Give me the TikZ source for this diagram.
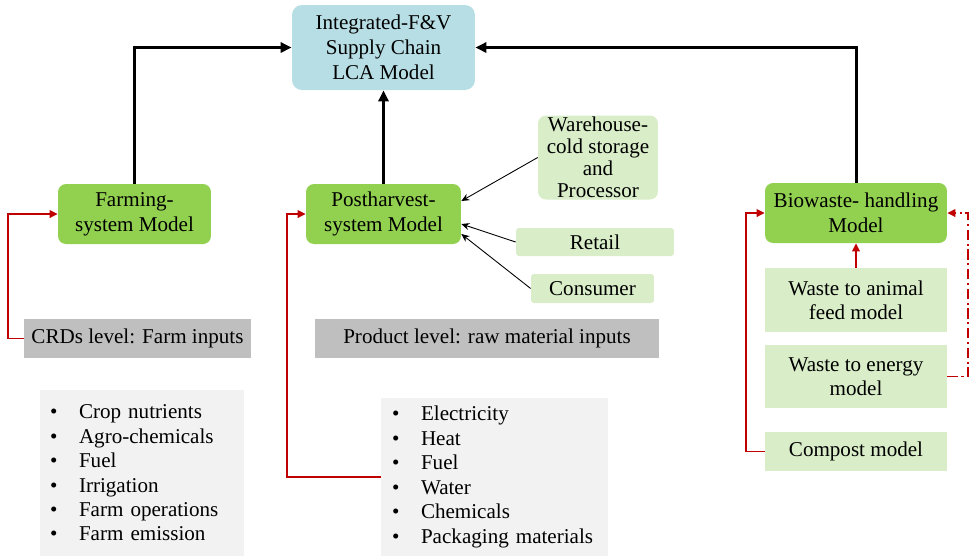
\documentclass[tikz,border=0pt]{standalone}
\usepackage{fontspec}
\setmainfont{Liberation Serif}
\usetikzlibrary{arrows.meta}
\definecolor{lcablue}{RGB}{183,222,228}
\definecolor{modelgreen}{RGB}{146,208,80}
\definecolor{palegreen}{RGB}{216,237,200}
\definecolor{tiergray}{RGB}{191,191,191}
\definecolor{listgray}{RGB}{242,242,242}
\definecolor{linkred}{RGB}{192,0,0}
\tikzset{every node/.style={inner sep=0pt,align=center,font=\fontsize{12}{14.2}\selectfont}}
\tikzset{model/.style={fill=modelgreen,rounded corners=0.16cm,minimum height=1.2cm}}
\tikzset{stage/.style={fill=palegreen,rounded corners=0.06cm}}
\tikzset{submodel/.style={fill=palegreen,minimum width=3.64cm}}
\tikzset{tier/.style={fill=tiergray,minimum height=0.78cm}}
\tikzset{inputs/.style={fill=listgray,align=left,font=\fontsize{12}{13.9}\selectfont}}
\tikzset{up/.style={line width=1.7pt,-{Triangle[length=2.2mm,width=2mm]}}}
\tikzset{feeder/.style={line width=0.5pt,-{Stealth[length=1.6mm,width=1.4mm]}}}
\tikzset{redlink/.style={linkred,line width=1.1pt,-{Triangle[length=1.6mm,width=1.5mm]}}}
\newcommand{\itm}[1]{\makebox[0.58cm][l]{\textbullet}#1}

\begin{document}
\begin{tikzpicture}[x=0.02cm,y=-0.02cm]
      \useasboundingbox (0,0) rectangle (974,556);
      \node[fill=lcablue,rounded corners=0.2cm,minimum width=3.66cm,minimum height=1.7cm] (lca) at (383.5,47.5) {Integrated-F\&V\\Supply Chain\\LCA Model};
      \node[model,minimum width=3.06cm] (farm) at (134.5,214) {Farming-\\system Model};
      \node[model,minimum width=3.1cm] (post) at (383.5,214) {Postharvest-\\system Model};
      \node[model,minimum width=3.64cm] (bio) at (856,213) {Biowaste- handling\\Model};
      \node[stage,rounded corners=0.16cm,minimum width=2.4cm,minimum height=1.68cm,font=\fontsize{12}{12.5}\selectfont] (ware) at (598,157.5) {Warehouse-\\cold storage\\and\\Processor};
      \node[stage,minimum width=3.16cm,minimum height=0.56cm] (retail) at (595,242) {Retail};
      \node[stage,minimum width=2.46cm,minimum height=0.58cm] (consumer) at (592.5,288.5) {Consumer};
      \node[tier,minimum width=4.54cm] (crd) at (137.5,338.5) {CRDs level: Farm inputs};
      \node[tier,minimum width=6.88cm] (prod) at (487,338.5) {Product level: raw material inputs};
      \node[inputs,text width=3.68cm,inner xsep=0.2cm,minimum height=3.32cm] (farmlist) at (142,473)
        {\itm{Crop nutrients}\\\itm{Agro-chemicals}\\\itm{Fuel}\\\itm{Irrigation}\\\itm{Farm operations}\\\itm{Farm emission}};
      \node[inputs,text width=4.1cm,inner xsep=0.22cm,minimum height=3.16cm] (postlist) at (494.5,477)
        {\itm{Electricity}\\\itm{Heat}\\\itm{Fuel}\\\itm{Water}\\\itm{Chemicals}\\\itm{Packaging materials}};
      \node[submodel,minimum height=1.28cm,font=\fontsize{12}{13.6}\selectfont] (feedm) at (856,300) {Waste to animal\\feed model};
      \node[submodel,minimum height=1.26cm,font=\fontsize{12}{13.6}\selectfont] (energy) at (856,376.5) {Waste to energy\\model};
      \node[submodel,minimum height=0.78cm] (compost) at (856,451.5) {Compost model};
      % to the LCA model
      \draw[up] (farm.north) |- (lca.west);
      \draw[up] (post.north) -- (lca.south);
      \draw[up] (bio.north) |- (lca.east);
      % supply chain stages
      \draw[feeder] (ware.west) -- ([yshift=0.26cm]post.east);
      \draw[feeder] (retail.west) -- ([yshift=-0.2cm]post.east);
      \draw[feeder] (consumer.west) -- ([yshift=-0.4cm]post.east);
      % inputs
      \draw[redlink] (crd.west) -- ++(-16,0) |- (farm.west);
      \draw[redlink] (postlist.west) -- ++(-94,0) |- (post.west);
      \draw[redlink] (feedm.north) -- (bio.south);
      \draw[redlink] (compost.west) -- ++(-19,0) |- (bio.west);
      \draw[redlink,dash pattern=on 6pt off 2pt on 1.2pt off 2pt] (energy.east) -- ++(21,0) |- (bio.east);
\end{tikzpicture}
\end{document}
